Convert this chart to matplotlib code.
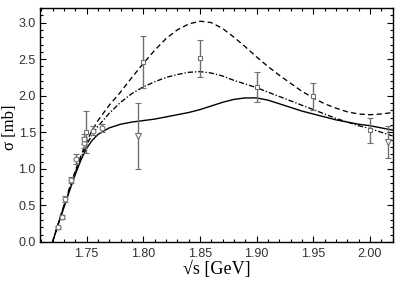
import matplotlib
matplotlib.use("Agg")
import matplotlib.pyplot as plt
from matplotlib.ticker import MultipleLocator

# Curves
x_curve = [1.72, 1.725, 1.73, 1.735, 1.74, 1.745, 1.75, 1.755, 1.76, 1.77, 1.78, 1.79,
           1.80, 1.81, 1.82, 1.83, 1.84, 1.85, 1.86, 1.87, 1.88, 1.89, 1.90, 1.91,
           1.92, 1.93, 1.94, 1.95, 1.96, 1.97, 1.98, 1.99, 2.00, 2.01, 2.02]
solid = [0.0, 0.24, 0.47, 0.70, 0.92, 1.12, 1.28, 1.39, 1.47, 1.56, 1.61, 1.64,
         1.66, 1.68, 1.71, 1.74, 1.77, 1.81, 1.86, 1.91, 1.95, 1.97, 1.97, 1.94,
         1.89, 1.84, 1.79, 1.75, 1.71, 1.67, 1.64, 1.61, 1.59, 1.56, 1.53]
dashed = [0.0, 0.25, 0.50, 0.74, 0.97, 1.18, 1.37, 1.53, 1.66, 1.87, 2.05, 2.25,
          2.44, 2.62, 2.78, 2.90, 2.98, 3.02, 3.00, 2.92, 2.80, 2.67, 2.53, 2.40,
          2.28, 2.17, 2.06, 1.97, 1.89, 1.83, 1.78, 1.75, 1.74, 1.75, 1.77]
dashdot = [0.0, 0.25, 0.49, 0.73, 0.95, 1.15, 1.33, 1.47, 1.58, 1.76, 1.91, 2.03,
           2.12, 2.19, 2.25, 2.29, 2.32, 2.33, 2.31, 2.27, 2.21, 2.16, 2.11, 2.05,
           1.99, 1.93, 1.87, 1.81, 1.75, 1.69, 1.64, 1.59, 1.55, 1.50, 1.45]

# Data points
circ_x = [1.725, 1.728, 1.731, 1.736, 1.741, 1.7475, 1.748, 1.7555, 1.764]
circ_y = [0.20, 0.34, 0.59, 0.85, 1.13, 1.36, 1.41, 1.52, 1.56]
circ_e = [0.02, 0.03, 0.04, 0.04, 0.07, 0.07, 0.07, 0.06, 0.05]
sq_x = [1.7497, 1.80, 1.85, 1.90, 1.95, 2.00]
sq_y = [1.50, 2.46, 2.51, 2.12, 1.99, 1.53]
sq_e = [0.29, 0.35, 0.25, 0.20, 0.18, 0.17]
tri_x = [1.795, 2.0157]
tri_y = [1.45, 1.37]
tri_e = [0.45, 0.22]

fig = plt.figure(figsize=(4.09, 2.85), dpi=100)
ax = fig.add_axes([0.098, 0.151, 0.862, 0.821])

ax.plot(x_curve, solid, color='black', lw=1.0, ls='-')
ax.plot(x_curve, dashed, color='black', lw=0.95, ls=(0, (4, 2.5)))
ax.plot(x_curve, dashdot, color='black', lw=0.95, ls=(0, (4, 1.5, 1, 1.5)))

gray = '#707070'
for xs, ys, es, m, ms in [(circ_x, circ_y, circ_e, 'o', 3.5),
                          (sq_x, sq_y, sq_e, 's', 3.5),
                          (tri_x, tri_y, tri_e, 'v', 4.5)]:
    ax.errorbar(xs, ys, yerr=es, fmt=m, ms=ms, mfc='white', mec=gray, mew=0.8,
                ecolor=gray, elinewidth=1.0, capsize=2.2, capthick=1.0, zorder=3)

ax.set_xlim(1.709, 2.02)
ax.set_ylim(0, 3.2)
ax.xaxis.set_minor_locator(MultipleLocator(0.01))
ax.yaxis.set_minor_locator(MultipleLocator(0.1))
ax.set_xticks([1.75, 1.80, 1.85, 1.90, 1.95, 2.00])
ax.set_xticklabels(['1.75', '1.80', '1.85', '1.90', '1.95', '2.00'])
ax.set_yticks([0.0, 0.5, 1.0, 1.5, 2.0, 2.5, 3.0])
ax.set_yticklabels(['0.0', '0.5', '1.0', '1.5', '2.0', '2.5', '3.0'])
ax.tick_params(which='both', direction='in', top=True, right=True,
               labelsize=9, labelcolor='#333333', width=0.8)
ax.tick_params(which='major', length=4)
ax.tick_params(axis='x', which='major', pad=4)
ax.tick_params(axis='y', which='major', pad=3)
ax.tick_params(which='minor', length=2)
for lab in ax.get_xticklabels() + ax.get_yticklabels():
    lab.set_family('Liberation Sans')
for s in ax.spines.values():
    s.set_linewidth(1.0)

ax.set_xlabel('√s [GeV]', family='Liberation Serif', fontsize=13, labelpad=1)
fig.text(10 / 409, 1 - 127 / 285, 'σ [mb]', family='Liberation Serif', fontsize=12,
         rotation=90, ha='center', va='center')

fig.savefig('out.png', dpi=100)
